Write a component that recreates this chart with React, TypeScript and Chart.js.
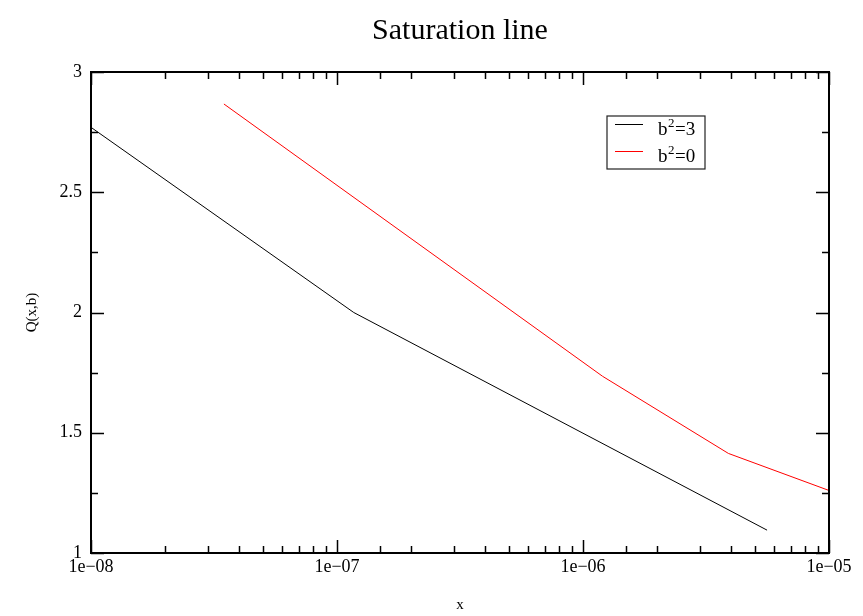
import React, { useEffect, useRef } from 'react';
import { Chart, registerables } from 'chart.js';

Chart.register(...registerables);

const chartTitle = 'Saturation line';
const xAxisTitle = 'x';
const yAxisTitle = 'Q(x,b)';
const xTickExponents = [-8, -7, -6, -5];
const xTickLabels = ['1e\u221208', '1e\u221207', '1e\u221206', '1e\u221205'];
const yTickValues = [1, 1.5, 2, 2.5, 3];
const yTickLabels = ['1', '1.5', '2', '2.5', '3'];
const seriesLabels = ['b\u00b2=3', 'b\u00b2=0'];
const seriesColors = ['#000000', '#ff0000'];

const b3X = [1e-8, 1.17e-7, 5.6e-6];
const b3Y = [2.77, 2.0, 1.095];
const b0X = [3.47e-8, 1.2e-6, 3.9e-6, 1e-5];
const b0Y = [2.867, 1.735, 1.414, 1.26];

const SERIF = '"Liberation Serif", "DejaVu Serif", serif';

function drawSupLabel(ctx: CanvasRenderingContext2D, text: string, x: number, y: number) {
  const i = text.indexOf('\u00b2');
  const base = i >= 0 ? text.slice(0, i) : text;
  const rest = i >= 0 ? text.slice(i + 1) : '';
  ctx.textAlign = 'left';
  ctx.textBaseline = 'alphabetic';
  ctx.font = `19px ${SERIF}`;
  ctx.fillText(base, x, y);
  let cx = x + ctx.measureText(base).width;
  if (i >= 0) {
    ctx.font = `13px ${SERIF}`;
    ctx.fillText('2', cx + 0.5, y - 8);
    cx += ctx.measureText('2').width + 1;
    ctx.font = `19px ${SERIF}`;
  }
  ctx.fillText(rest, cx, y);
}

const decorPlugin = {
  id: 'decor',
  afterDraw(chart: any) {
    const ctx: CanvasRenderingContext2D = chart.ctx;
    const a = chart.chartArea;
    const xs = chart.scales.x;
    const ys = chart.scales.y;
    ctx.save();
    ctx.strokeStyle = '#000';
    ctx.lineWidth = 1.5;
    ctx.beginPath();
    xs.ticks.forEach((t: any) => {
      const e = Math.log10(t.value);
      const major = Math.abs(e - Math.round(e)) < 1e-6;
      const len = major ? 13 : 7;
      const px = Math.round(xs.getPixelForValue(t.value)) + 0.5;
      ctx.moveTo(px, a.bottom);
      ctx.lineTo(px, a.bottom - len);
      ctx.moveTo(px, a.top);
      ctx.lineTo(px, a.top + len);
    });
    ys.ticks.forEach((t: any) => {
      const major = yTickValues.some((v) => Math.abs(v - t.value) < 1e-9);
      const len = major ? 13 : 7;
      const py = Math.round(ys.getPixelForValue(t.value)) + 0.5;
      ctx.moveTo(a.left, py);
      ctx.lineTo(a.left + len, py);
      ctx.moveTo(a.right, py);
      ctx.lineTo(a.right - len, py);
    });
    ctx.stroke();
    ctx.lineWidth = 2;
    ctx.strokeRect(a.left, a.top, a.right - a.left, a.bottom - a.top);
    ctx.fillStyle = '#000';
    ctx.font = `30px ${SERIF}`;
    ctx.textAlign = 'center';
    ctx.textBaseline = 'middle';
    ctx.fillText(chartTitle, (a.left + a.right) / 2, 31);
    const lx = 607, ly = 116, lw = 98, lh = 53;
    ctx.lineWidth = 1.2;
    ctx.strokeStyle = '#222';
    ctx.strokeRect(lx, ly, lw, lh);
    chart.data.datasets.forEach((ds: any, k: number) => {
      const yy = 124 + k * 27;
      ctx.strokeStyle = ds.borderColor;
      ctx.lineWidth = 1;
      ctx.beginPath();
      ctx.moveTo(615, yy + 0.5);
      ctx.lineTo(643, yy + 0.5);
      ctx.stroke();
      ctx.fillStyle = '#000';
      drawSupLabel(ctx, ds.label, 658, yy + 10.5);
    });
    ctx.restore();
  },
};

export default function App() {
  const ref = useRef<HTMLCanvasElement>(null);
  useEffect(() => {
    if (!ref.current) return;
    const mk = (xv: number[], yv: number[]) => xv.map((x, i) => ({ x, y: yv[i] }));
    const chart = new Chart(ref.current, {
      type: 'line',
      data: {
        datasets: [
          {
            label: seriesLabels[0],
            data: mk(b3X, b3Y),
            borderColor: seriesColors[0],
            borderWidth: 1,
            pointRadius: 0,
            tension: 0,
            fill: false,
          },
          {
            label: seriesLabels[1],
            data: mk(b0X, b0Y),
            borderColor: seriesColors[1],
            borderWidth: 1,
            pointRadius: 0,
            tension: 0,
            fill: false,
          },
        ],
      },
      options: {
        responsive: false,
        animation: false,
        devicePixelRatio: 1,
        layout: { padding: { top: 72, right: 34, bottom: 0, left: 0 } },
        plugins: {
          legend: { display: false },
          title: { display: false },
          tooltip: { enabled: false },
        },
        scales: {
          x: {
            type: 'logarithmic',
            min: 1e-8,
            max: 1e-5,
            afterFit: (s: any) => {
              s.height = 63;
            },
            grid: { display: false, drawTicks: false },
            border: { display: false },
            ticks: {
              autoSkip: false,
              maxRotation: 0,
              padding: 3,
              color: '#000',
              font: { family: SERIF, size: 18 },
              callback: (v: any) => {
                const e = Math.log10(Number(v));
                const i = xTickExponents.findIndex((q) => Math.abs(q - e) < 1e-6);
                return i >= 0 ? xTickLabels[i] : '';
              },
            },
            title: {
              display: true,
              text: xAxisTitle,
              color: '#000',
              font: { family: SERIF, size: 15 },
              padding: { top: 0, bottom: 2 },
            },
          },
          y: {
            type: 'linear',
            min: 1,
            max: 3,
            afterFit: (s: any) => {
              s.width = 91;
            },
            grid: { display: false, drawTicks: false },
            border: { display: false },
            ticks: {
              stepSize: 0.25,
              autoSkip: false,
              padding: 9,
              color: '#000',
              font: { family: SERIF, size: 18 },
              callback: (v: any) => {
                const i = yTickValues.findIndex((q) => Math.abs(q - Number(v)) < 1e-9);
                return i >= 0 ? yTickLabels[i] : '';
              },
            },
            title: {
              display: true,
              text: yAxisTitle,
              color: '#000',
              font: { family: SERIF, size: 15 },
              padding: { top: 23, bottom: 0 },
            },
          },
        },
      },
      plugins: [decorPlugin],
    } as any);
    return () => chart.destroy();
  }, []);
  return (
    <div style={{ position: 'fixed', left: 0, top: 0, width: 863, height: 616, background: '#fff' }}>
      <canvas ref={ref} width={863} height={616} style={{ display: 'block' }} />
    </div>
  );
}
